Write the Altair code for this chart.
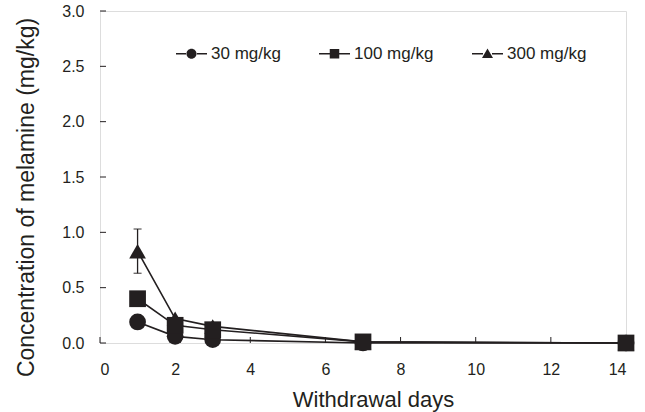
import altair as alt
import pandas as pd

# ---- data ----
days = [1, 2, 3, 7, 14]
series = ["30 mg/kg", "100 mg/kg", "300 mg/kg"]
conc_30 = [0.19, 0.06, 0.03, 0.00, 0.00]
conc_100 = [0.40, 0.16, 0.12, 0.01, 0.00]
conc_300 = [0.83, 0.22, 0.15, 0.01, 0.00]
err_300 = [0.20, 0.00, 0.00, 0.00, 0.00]
x_ticks = [0, 2, 4, 6, 8, 10, 12, 14]
y_ticks = [0.0, 0.5, 1.0, 1.5, 2.0, 2.5, 3.0]

INK = "#231f20"
FONT = "Liberation Sans"
W, H = 526, 332

rows = []
for name, vals, errs in [
    ("300 mg/kg", conc_300, err_300),
    ("30 mg/kg", conc_30, [0] * len(days)),
    ("100 mg/kg", conc_100, [0] * len(days)),
]:
    for d, v, e in zip(days, vals, errs):
        rows.append({"day": d, "conc": v, "series": name, "lo": v - e, "hi": v + e, "err": e})
df = pd.DataFrame(rows)
err_df = df[df["err"] > 0]

xs = alt.Scale(domain=[0, 14], nice=False, zero=False)
ys = alt.Scale(domain=[0, 3], nice=False)

x_enc = alt.X("day:Q", scale=xs,
              axis=alt.Axis(values=x_ticks, format="d", ticks=False, domain=False, grid=False,
                            labelFontSize=16, labelFont=FONT, labelColor=INK, labelPadding=18,
                            title="Withdrawal days", titleFontSize=22, titleFont=FONT,
                            titleFontWeight="normal", titleColor=INK,
                            titleX=273, titleY=63, titleBaseline="alphabetic"))
y_enc = alt.Y("conc:Q", scale=ys,
              axis=alt.Axis(values=y_ticks, format=".1f", ticks=False, domain=False, grid=False,
                            labelFontSize=16, labelFont=FONT, labelColor=INK, labelPadding=16,
                            title="Concentration of melamine (mg/kg)", titleFontSize=23,
                            titleFont=FONT, titleFontWeight="normal", titleColor=INK,
                            titleX=-67, titleY=186, titleAlign="center",
                            titleBaseline="alphabetic"))

base = alt.Chart(df)

lines = base.mark_line(color=INK, strokeWidth=1.6).encode(
    x=x_enc, y=y_enc, detail="series:N")

points = base.mark_point(filled=True, color=INK, opacity=1, strokeWidth=0).encode(
    x="day:Q", y="conc:Q",
    shape=alt.Shape("series:N",
                    scale=alt.Scale(domain=series, range=["circle", "square", "triangle-up"]),
                    legend=None),
    size=alt.Size("series:N",
                  scale=alt.Scale(domain=series, range=[280, 280, 370]),
                  legend=None),
)

err_rule = alt.Chart(err_df).mark_rule(color=INK, strokeWidth=1.3).encode(
    x="day:Q", y="lo:Q", y2="hi:Q")
err_cap_hi = alt.Chart(err_df).mark_tick(color=INK, orient="horizontal", size=8, thickness=1.3).encode(
    x="day:Q", y="hi:Q")
err_cap_lo = alt.Chart(err_df).mark_tick(color=INK, orient="horizontal", size=8, thickness=1.3).encode(
    x="day:Q", y="lo:Q")

# inward ticks
xt = pd.DataFrame({"t": x_ticks})
yt = pd.DataFrame({"t": y_ticks})
x_tick_marks = alt.Chart(xt).mark_rule(color=INK, strokeWidth=1).encode(
    x="t:Q", y=alt.value(H), y2=alt.value(H - 6))
y_tick_marks = alt.Chart(yt).mark_rule(color=INK, strokeWidth=1).encode(
    y="t:Q", x=alt.value(0), x2=alt.value(6))

# legend-only layer (draws no marks; symbols include the line segment)
u_line = "M-3.1,-0.15H-0.9V0.15H-3.1Z M0.9,-0.15H3.1V0.15H0.9Z"
leg_shapes = [
    "M-1,0A1,1,0,1,0,1,0A1,1,0,1,0,-1,0Z " + u_line,
    "M-0.95,-0.95H0.95V0.95H-0.95Z " + u_line,
    "M0,-1.05L1.1,0.85H-1.1Z " + u_line,
]
legend_layer = base.transform_filter("datum.day < 0").mark_point(
    filled=True, color=INK, opacity=1, strokeWidth=0).encode(
    x="day:Q", y="conc:Q",
    shape=alt.Shape("series:N",
                    scale=alt.Scale(domain=series, range=leg_shapes),
                    legend=alt.Legend(orient="none", legendX=83, legendY=34,
                                      direction="horizontal", title=None,
                                      symbolSize=100, symbolStrokeWidth=0,
                                      symbolFillColor=INK,
                                      labelFontSize=17, labelFont=FONT, labelColor=INK,
                                      labelFontWeight="normal",
                                      labelOffset=11, columnPadding=38)),
)

chart = alt.layer(
    x_tick_marks, y_tick_marks, lines, err_rule, err_cap_hi, err_cap_lo, points, legend_layer
).resolve_scale(shape="independent", size="independent").properties(
    width=W, height=H,
    autosize=alt.AutoSizeParams(type="none"),
    padding={"left": 100, "top": 11, "right": 19, "bottom": 69},
).configure_view(stroke=INK, strokeWidth=2).configure(background="white")

chart.save("out.html", embed_options={"renderer": "svg", "actions": False})
